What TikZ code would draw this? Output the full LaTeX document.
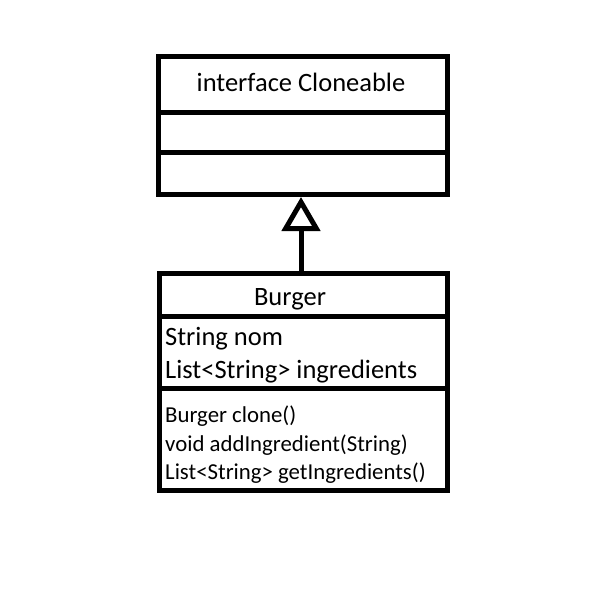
\documentclass[tikz,border=0pt]{standalone}
\usepackage{fontspec}
\setmainfont{Carlito}
\usetikzlibrary{arrows.meta}
\tikzset{
  umlbox/.style={draw=black, line width=5bp, inner sep=0pt, outer sep=0pt},
  divider/.style={draw=black, line width=5bp},
  bigtext/.style={inner sep=0pt, font=\fontsize{26.5bp}{30bp}\selectfont},
  smalltext/.style={inner sep=0pt, font=\fontsize{22.8bp}{26bp}\selectfont},
  inherit/.style={draw=black, line width=5bp, -{Triangle[open, length=34bp, width=38bp]}}
}
\begin{document}
\begin{tikzpicture}[x=1bp,y=-1bp]
\useasboundingbox (0,0) rectangle (600,600);
\node[umlbox, minimum width=289bp, minimum height=138bp] (iface) at (303,125.5) {};
\node[umlbox, minimum width=288.5bp, minimum height=217.5bp] (burger) at (303.25,381.75) {};
\draw[divider] (iface.west |- 0,112.5) -- (iface.east |- 0,112.5);
\draw[divider] (iface.west |- 0,152.5) -- (iface.east |- 0,152.5);
\draw[divider] (burger.west |- 0,316.5) -- (burger.east |- 0,316.5);
\draw[divider] (burger.west |- 0,388.5) -- (burger.east |- 0,388.5);
\coordinate (tipend) at (301,197);
\coordinate (tailstart) at (301,271);
\draw[inherit] (tailstart) -- (tipend);
\node[bigtext, anchor=base] (t1) at (301,92) {interface Cloneable};
\node[bigtext, anchor=base] (t2) at (290,305) {Burger};
\node[bigtext, anchor=base west] (a1) at (165,345) {String nom};
\node[bigtext, anchor=base west] (a2) at (165,378) {List<String> ingredients};
\node[smalltext, anchor=base west] (m1) at (165,422) {Burger clone()};
\node[smalltext, anchor=base west] (m2) at (165,451) {void addIngredient(String)};
\node[smalltext, anchor=base west] (m3) at (165,479) {List<String> getIngredients()};
\end{tikzpicture}
\end{document}
